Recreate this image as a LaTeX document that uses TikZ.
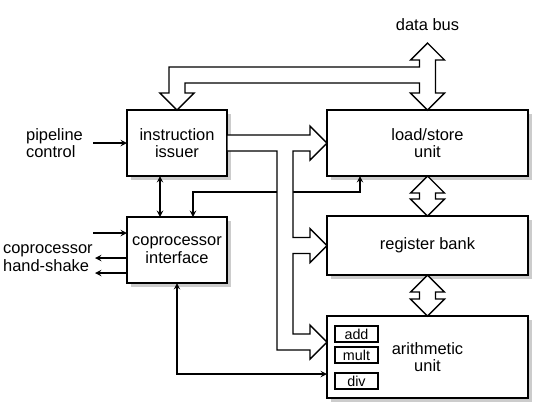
\documentclass[tikz,border=0pt]{standalone}
\usepackage{fontspec}
\setmainfont{Liberation Sans}
\usepackage{tikz}
\usetikzlibrary{arrows, positioning, calc, backgrounds}

\begin{document}
\begin{tikzpicture}[
    node distance=1cm,
    font=\fontsize{11.7}{12.5}\selectfont,
    unit/.style={rectangle, draw, line width=1pt, fill=white, minimum height=1.65cm, outer sep=0pt, align=center},
    op/.style={rectangle, draw, line width=0.9pt, minimum width=1.075cm, minimum height=0.4cm, inner sep=0pt, outer sep=0pt, font=\fontsize{10.2}{11}\selectfont},
    bus/.style={draw, line width=1pt, fill=white, line join=miter},
    arrow/.style={->, >=stealth, line width=1pt}
]
\useasboundingbox (0,0) rectangle (13.325,-10.175);

% Units
\node[unit, minimum width=2.5cm] (issuer) at (4.425,-3.575) {instruction\\issuer};
\node[unit, minimum width=5.025cm, right=2.5cm of issuer] (loadstore) {load/store\\unit};
\node[unit, minimum width=2.5cm, below=1.025cm of issuer] (coproc) {coprocessor\\interface};
\node[unit, minimum width=5.025cm, minimum height=1.475cm, below=1cm of loadstore] (regbank) {register bank};
\node[unit, minimum width=5.025cm, minimum height=2.05cm, below=1.025cm of regbank] (arith) {arithmetic\\unit};
\node[op, below right=0.25cm and 0.2cm of arith.north west] (add) {add};
\node[op, below=0.125cm of add] (mult) {mult};
\node[op, below=0.25cm of mult] (div) {div};

% Shadows
\begin{scope}[on background layer]
\foreach \u in {issuer, loadstore, coproc, regbank, arith}
    \fill[gray!40] ([shift={(0.1,-0.1)}]\u.south west) rectangle ([shift={(0.1,-0.1)}]\u.north east);
\end{scope}

% Pipeline control
\coordinate[left=0.85cm of issuer.west] (pipein);
\node[left=0.13cm of pipein, align=left] (pipelbl) {pipeline\\control};
\draw[arrow] (pipein) -- (issuer.west);

% Coprocessor hand-shake
\coordinate[above left=0.425cm and 0.85cm of coproc.west] (hsin);
\coordinate[below left=0.2cm and 0.8cm of coproc.west] (hsout1);
\coordinate[below left=0.575cm and 0.8cm of coproc.west] (hsout2);
\node[left=0.85cm of coproc.west, yshift=-0.2cm, inner sep=0pt, align=left] (hslbl) {coprocessor\\hand-shake};
\draw[arrow] (hsin) -- (hsin -| coproc.west);
\draw[arrow] (hsout1 -| coproc.west) -- (hsout1);
\draw[arrow] (hsout2 -| coproc.west) -- (hsout2);

% Control lines
\draw[arrow, <->] ([xshift=-0.425cm]issuer.south) -- ([xshift=-0.425cm]coproc.north);
\draw[arrow, <->] ([xshift=0.825cm]loadstore.south west) -- ++(0,-0.4) -| ([xshift=0.4cm]coproc.north);
\draw[arrow, <->] (coproc.south) |- ([yshift=-0.425cm]arith.west);

% Instruction bus
\coordinate (t1) at (loadstore.west);
\coordinate (t2) at (regbank.west);
\coordinate (t3) at ([yshift=0.375cm]arith.west);
\draw[bus] ([yshift=0.2cm]issuer.east) -- ([shift={(-0.425,0.2)}]t1) -- ++(0,0.225) -- (t1) -- ++(-0.425,-0.425) -- ++(0,0.225) -- ++(-0.425,0)
    -- ([shift={(-0.85,0.2)}]t2) -- ++(0.425,0) -- ++(0,0.225) -- (t2) -- ++(-0.425,-0.425) -- ++(0,0.225) -- ++(-0.425,0)
    -- ([shift={(-0.85,0.2)}]t3) -- ++(0.425,0) -- ++(0,0.225) -- (t3) -- ++(-0.425,-0.425) -- ++(0,0.225)
    -- ([shift={(-1.25,-0.2)}]t3) -- ([shift={(-1.25,-0.2)}]t1) -- ([yshift=-0.2cm]issuer.east) -- cycle;

% Data bus
\node at ([yshift=2.125cm]loadstore.north) (buslbl) {data bus};
\draw[bus] ([yshift=1.675cm]loadstore.north) -- ++(0.425,-0.425) -- ++(-0.225,0) -- ([shift={(0.2,0.425)}]loadstore.north) -- ++(0.225,0)
    -- (loadstore.north) -- ++(-0.425,0.425) -- ++(0.225,0) -- ([shift={(-0.2,0.675)}]loadstore.north) -- ([shift={(0.2,0.675)}]issuer.north)
    -- ([shift={(0.2,0.425)}]issuer.north) -- ++(0.225,0) -- (issuer.north) -- ++(-0.425,0.425) -- ++(0.225,0)
    -- ([shift={(-0.2,1.075)}]issuer.north) -- ([shift={(-0.2,1.075)}]loadstore.north) -- ([shift={(-0.2,1.25)}]loadstore.north) -- ++(-0.225,0) -- cycle;

% Register transfers
\draw[bus] (loadstore.south) -- ++(0.425,-0.425) -- ++(-0.225,0) -- ([shift={(0.2,0.425)}]regbank.north) -- ++(0.225,0) -- (regbank.north)
    -- ++(-0.425,0.425) -- ++(0.225,0) -- ([shift={(-0.2,-0.425)}]loadstore.south) -- ++(-0.225,0) -- cycle;
\draw[bus] (regbank.south) -- ++(0.425,-0.425) -- ++(-0.225,0) -- ([shift={(0.2,0.425)}]arith.north) -- ++(0.225,0) -- (arith.north)
    -- ++(-0.425,0.425) -- ++(0.225,0) -- ([shift={(-0.2,-0.425)}]regbank.south) -- ++(-0.225,0) -- cycle;

\end{tikzpicture}
\end{document}
